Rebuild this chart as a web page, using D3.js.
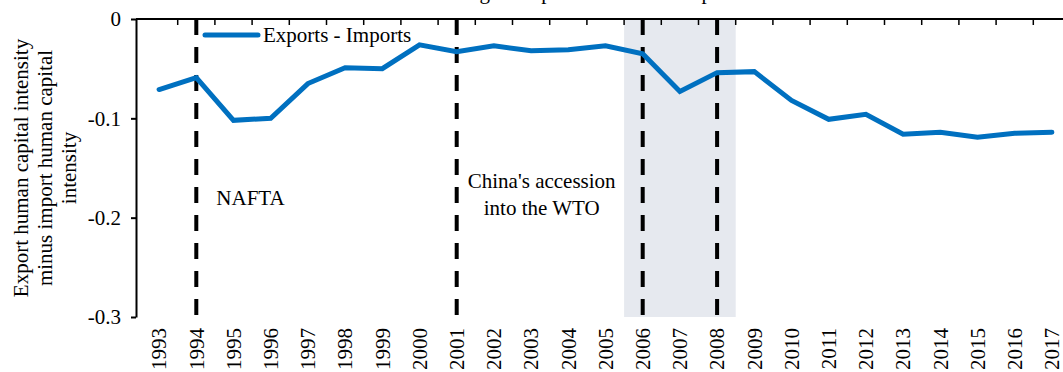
<!DOCTYPE html>
<html>
<head>
<meta charset="utf-8">
<script src="https://cdn.jsdelivr.net/npm/d3@7"></script>
<style>
  html, body { margin: 0; padding: 0; background: #fff; overflow: hidden; }
  svg { display: block; font-family: "Liberation Serif", "Times New Roman", serif; }
</style>
</head>
<body>
<svg id="chart" width="1063" height="372"></svg>
<script>
// ---- data ----
const years = ["1993","1994","1995","1996","1997","1998","1999","2000","2001","2002","2003","2004","2005","2006","2007","2008","2009","2010","2011","2012","2013","2014","2015","2016","2017"];
const gapValues = [-0.071,-0.059,-0.102,-0.100,-0.065,-0.049,-0.050,-0.026,-0.033,-0.027,-0.032,-0.031,-0.027,-0.035,-0.073,-0.054,-0.053,-0.082,-0.101,-0.096,-0.116,-0.114,-0.119,-0.115,-0.114];
const seriesName = "Exports - Imports";
const yTicks = [0, -0.1, -0.2, -0.3];
const eventYears = ["1994", "2001", "2006", "2008"];
const shadedYears = ["2006", "2008"];
const annotations = [
  { year: "1994", lines: ["NAFTA"] },
  { year: "2001", lines: ["China's accession", "into the WTO"] }
];
const yAxisTitle = ["Export human capital intensity", "minus import human capital", "intensity"];
const chartTitle = "Skill Rating of Exports relative to Imports";

// ---- layout ----
const FS = 21;
const svg = d3.select("#chart");
const plotTop = 19, plotBottom = 317, axisX = 136;
const x = d3.scaleBand().domain(years).range([140.5, 1070.5]).padding(0);
const y = d3.scaleLinear().domain([0, -0.3]).range([plotTop, plotBottom]);
const cx = d => x(d) + x.bandwidth() / 2;
const blue = "#0070C0";

// title (cut off at top in the reference)
svg.append("text").attr("x", 389).attr("y", -1.5)
  .attr("font-size", FS).attr("fill", "#000").text(chartTitle);

// shaded period
svg.append("rect")
  .attr("x", x(shadedYears[0]))
  .attr("y", plotTop)
  .attr("width", x(shadedYears[1]) + x.bandwidth() - x(shadedYears[0]))
  .attr("height", plotBottom - plotTop)
  .attr("fill", "#E6E9EF");

// dashed event lines
svg.selectAll("line.event").data(eventYears).join("line")
  .attr("class", "event")
  .attr("x1", d => cx(d)).attr("x2", d => cx(d))
  .attr("y1", plotTop).attr("y2", plotBottom)
  .attr("stroke", "#000").attr("stroke-width", 4)
  .attr("stroke-dasharray", "16,12");

// top axis (value 0) with inward ticks at category boundaries
svg.append("line")
  .attr("x1", axisX).attr("x2", 1063)
  .attr("y1", y(0)).attr("y2", y(0))
  .attr("stroke", "#000").attr("stroke-width", 2);
svg.selectAll("line.xtick").data(years.slice(1)).join("line")
  .attr("class", "xtick")
  .attr("x1", d => x(d)).attr("x2", d => x(d))
  .attr("y1", y(0)).attr("y2", y(0) + 6)
  .attr("stroke", "#000").attr("stroke-width", 1.5);

// y axis
const fmt = d => d === 0 ? "0" : ("-" + d3.format(".1f")(Math.abs(d)));
const yAxis = svg.append("g").attr("transform", `translate(${axisX},0)`)
  .call(d3.axisLeft(y).tickValues(yTicks).tickSize(5).tickSizeOuter(0).tickPadding(10).tickFormat(fmt));
yAxis.select(".domain").attr("stroke", "#000").attr("stroke-width", 2);
yAxis.selectAll(".tick line").attr("stroke", "#000").attr("stroke-width", 2);
yAxis.selectAll(".tick text").attr("font-size", FS).attr("font-family", "Liberation Serif, Times New Roman, serif").attr("fill", "#000");

// x labels (rotated) via axis
const xAxis = svg.append("g").attr("transform", `translate(0,${plotBottom})`)
  .call(d3.axisBottom(x).tickSize(0).tickPadding(0));
xAxis.select(".domain").remove();
xAxis.selectAll(".tick text")
  .attr("font-size", FS).attr("font-family", "Liberation Serif, Times New Roman, serif").attr("fill", "#000")
  .attr("text-anchor", "end")
  .attr("transform", "translate(0,11) rotate(-90)")
  .attr("x", 0).attr("y", 0).attr("dy", "0.35em");

// y axis title
const yt = svg.append("text")
  .attr("transform", `translate(0,${(plotTop + plotBottom) / 2}) rotate(-90)`)
  .attr("text-anchor", "middle").attr("font-size", FS).attr("fill", "#000");
yAxisTitle.forEach((t, i) => {
  yt.append("tspan").attr("x", 0).attr("y", 28 + i * 24).text(t);
});

// data line
const line = d3.line().x((d, i) => cx(years[i])).y(d => y(d));
svg.append("path").datum(gapValues)
  .attr("d", line)
  .attr("fill", "none").attr("stroke", blue).attr("stroke-width", 5)
  .attr("stroke-linecap", "round").attr("stroke-linejoin", "miter");

// annotations
svg.append("text").attr("x", cx(annotations[0].year) + 20).attr("y", 205)
  .attr("font-size", FS).attr("fill", "#000").text(annotations[0].lines[0]);
const ann2 = svg.append("text").attr("text-anchor", "middle").attr("font-size", FS).attr("fill", "#000");
annotations[1].lines.forEach((t, i) => {
  ann2.append("tspan").attr("x", cx(annotations[1].year) + 85).attr("y", 188 + i * 27).text(t);
});

// legend
svg.append("line").attr("x1", 205).attr("x2", 258).attr("y1", 35).attr("y2", 35)
  .attr("stroke", blue).attr("stroke-width", 5).attr("stroke-linecap", "round");
svg.append("text").attr("x", 263).attr("y", 42).attr("font-size", FS).attr("fill", "#000").text(seriesName);
</script>
</body>
</html>
